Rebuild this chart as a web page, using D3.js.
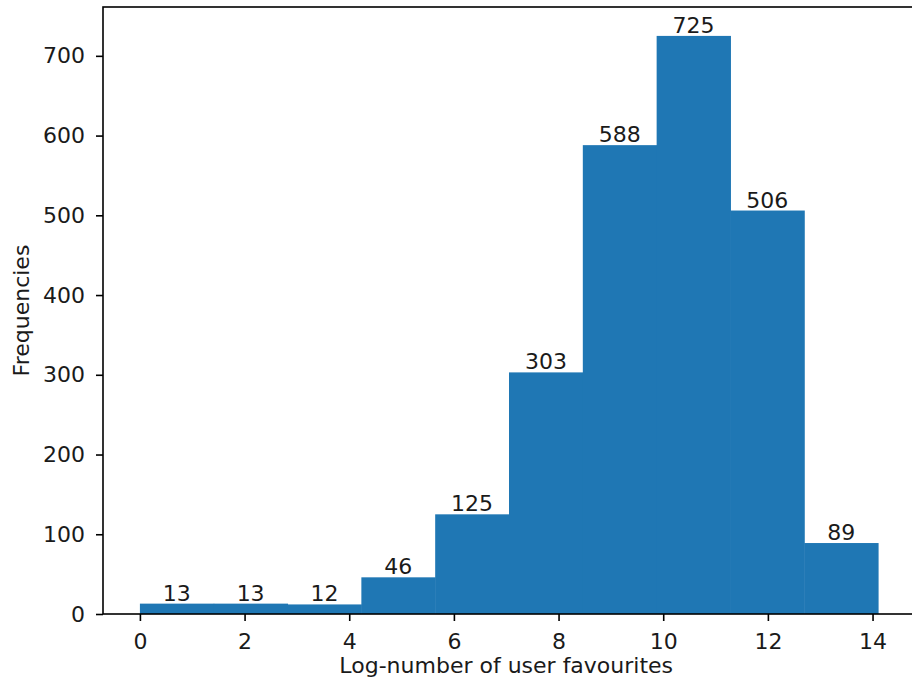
<!DOCTYPE html>
<html>
<head>
<meta charset="utf-8">
<script src="https://cdn.jsdelivr.net/npm/d3@7"></script>
<style>
  body { margin: 0; background: #fff; }
  text { font-family: "DejaVu Sans", sans-serif; fill: #1a1a1a; }
</style>
</head>
<body>
<div id="chart"></div>
<script>
// Histogram data: 10 bins from 0 to ~14.106
const binStart = 0;
const binEnd = 14.106;
const counts = [13, 13, 12, 46, 125, 303, 588, 725, 506, 89];
const xTicks = [0, 2, 4, 6, 8, 10, 12, 14];
const yTicks = [0, 100, 200, 300, 400, 500, 600, 700];

const W = 912, H = 692;
const margin = { top: 7, right: -3, bottom: 78, left: 103 };
const width = W - margin.left - margin.right;
const height = H - margin.top - margin.bottom;
const fontSize = "22px";

const binW = (binEnd - binStart) / counts.length;
const bins = counts.map((c, i) => ({ x0: binStart + i * binW, x1: binStart + (i + 1) * binW, n: c }));

const svg = d3.select("#chart").append("svg")
    .attr("width", W).attr("height", H);

const g = svg.append("g")
    .attr("transform", `translate(${margin.left},${margin.top})`);

// marges del 5% com matplotlib
const xPad = (binEnd - binStart) * 0.05;
const x = d3.scaleLinear()
    .domain([binStart - xPad, binEnd + xPad])
    .range([0, width]);
const y = d3.scaleLinear()
    .domain([0, d3.max(counts) * 1.05])
    .range([height, 0]);

// Barres
g.selectAll("rect.bar")
    .data(bins)
    .enter()
    .append("rect")
        .attr("class", "bar")
        .attr("x", d => x(d.x0))
        .attr("width", d => x(d.x1) - x(d.x0) + 0.5)
        .attr("y", d => y(d.n))
        .attr("height", d => y(0) - y(d.n))
        .attr("fill", "#1f77b4");

// Etiquetes sobre les barres
g.selectAll("text.lbl")
    .data(bins)
    .enter()
    .append("text")
        .attr("class", "lbl")
        .attr("x", d => x((d.x0 + d.x1) / 2))
        .attr("y", d => y(d.n) - 3)
        .attr("text-anchor", "middle")
        .style("font-size", fontSize)
        .text(d => d.n);

// Eixos
const xAxis = g.append("g")
    .attr("transform", `translate(0,${height})`)
    .call(d3.axisBottom(x).tickValues(xTicks).tickSize(7).tickPadding(14));
const yAxis = g.append("g")
    .call(d3.axisLeft(y).tickValues(yTicks).tickSize(7).tickPadding(11));

[xAxis, yAxis].forEach(a => {
    a.select(".domain").remove();
    a.selectAll("text").style("font-size", fontSize).style("font-family", "DejaVu Sans, sans-serif");
    a.selectAll("line").attr("stroke", "#000").attr("stroke-width", 1.6);
});
xAxis.selectAll("text").attr("dy", null).attr("y", 35);

// Marc
g.append("rect")
    .attr("x", 0).attr("y", 0)
    .attr("width", width).attr("height", height)
    .attr("fill", "none")
    .attr("stroke", "#000")
    .attr("stroke-width", 1.6);

// Títols dels eixos
g.append("text")
    .attr("x", x(7))
    .attr("y", height + 59)
    .attr("text-anchor", "middle")
    .style("font-size", fontSize)
    .text("Log-number of user favourites");

g.append("text")
    .attr("transform", `translate(${29 - margin.left},${height / 2}) rotate(-90)`)
    .attr("text-anchor", "middle")
    .style("font-size", fontSize)
    .text("Frequencies");
</script>
</body>
</html>
